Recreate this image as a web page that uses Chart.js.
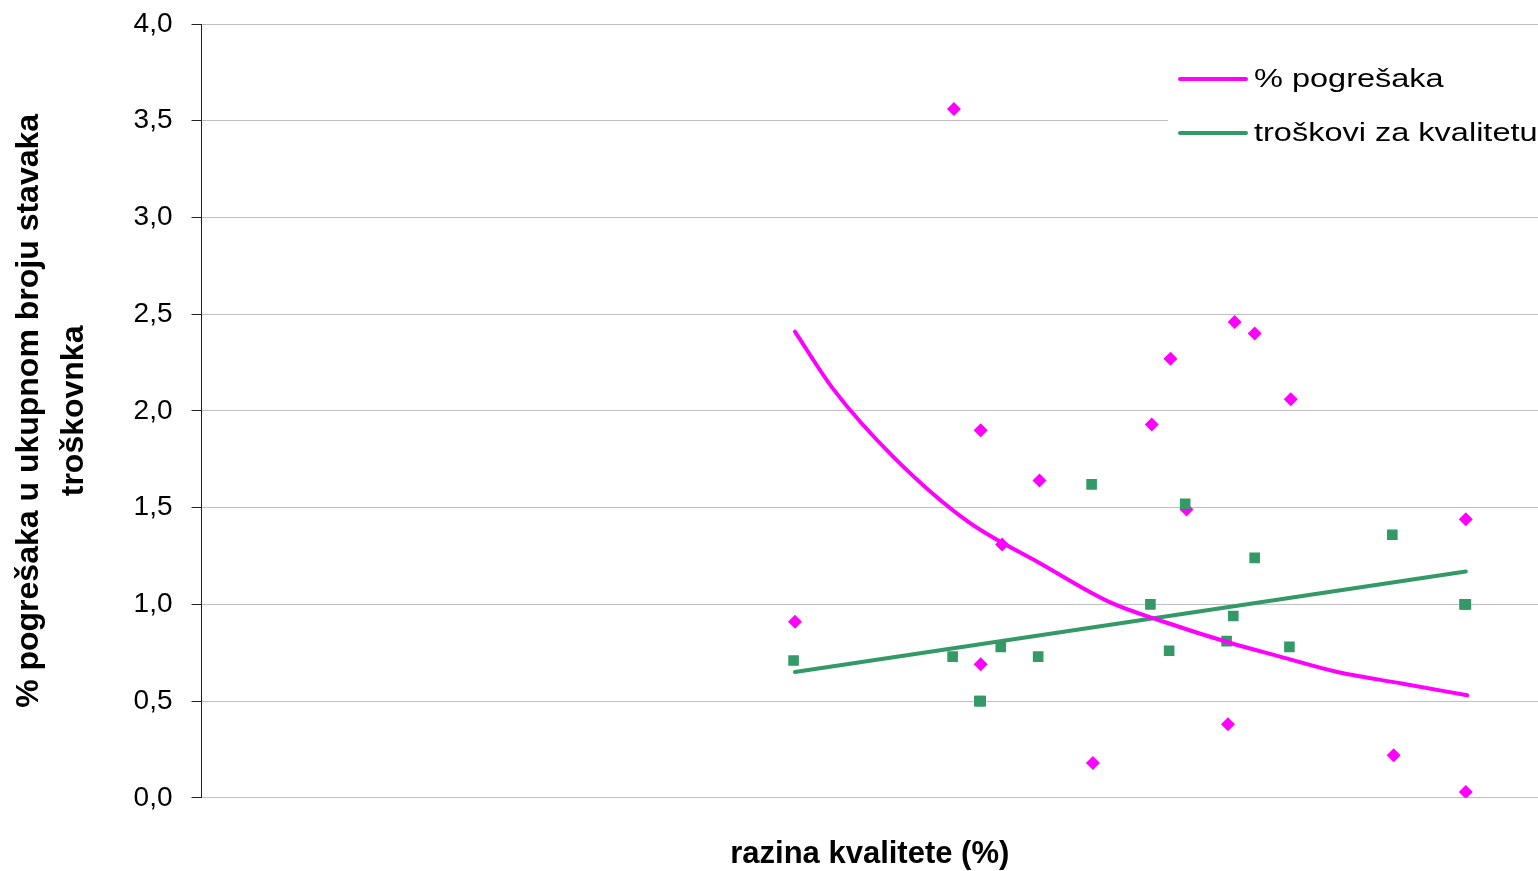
<!DOCTYPE html>
<html>
<head>
<meta charset="utf-8">
<title>Pogreške i troškovi za kvalitetu</title>
<script src="https://cdn.jsdelivr.net/npm/chart.js@4.4.1/dist/chart.umd.min.js"></script>
<style>
  html, body { margin: 0; padding: 0; background: #fff; }
  #wrap { width: 1538px; height: 871px; }
</style>
</head>
<body>
<div id="wrap"><canvas id="kvalitetaChart" width="1538" height="871"></canvas></div>
<script>
// stavke troškovnika: razina kvalitete (%) i % pogrešaka
const pogreskeX = [44.4, 56.3, 58.3, 58.3, 59.9, 62.7, 66.7, 71.1, 72.5, 73.7, 76.8, 77.3, 78.8, 81.5, 89.2, 94.6, 94.6];
const pogreskeY = [0.91, 3.56, 1.90, 0.69, 1.31, 1.64, 0.18, 1.93, 2.27, 1.49, 0.38, 2.46, 2.40, 2.06, 0.22, 1.44, 0.03];

// iste stavke: troškovi za kvalitetu
const troskoviX = [44.3, 56.2, 58.2, 58.3, 59.8, 62.6, 66.6, 71.0, 72.4, 73.6, 76.7, 77.2, 78.8, 81.4, 89.1, 94.5, 94.6];
const troskoviY = [0.71, 0.73, 0.50, 0.50, 0.78, 0.73, 1.62, 1.00, 0.76, 1.52, 0.81, 0.94, 1.24, 0.78, 1.36, 1.00, 1.00];

// trend linije (potencijalna za pogreške, linearna za troškove)
const trendPogreskeX = [44.4, 47.3, 51.8, 57.3, 62.8, 68.0, 72.0, 77.0, 80.7, 85.0, 89.9, 94.7];
const trendPogreskeY = [2.41, 2.11, 1.76, 1.43, 1.21, 1.01, 0.91, 0.80, 0.73, 0.65, 0.59, 0.53];
const trendTroskoviX = [44.4, 94.6];
const trendTroskoviY = [0.65, 1.17];

const yOznake = ['0,0', '0,5', '1,0', '1,5', '2,0', '2,5', '3,0', '3,5', '4,0'];

const MAGENTA = '#ff00ff';
const ZELENA = '#339966';
const FONT = '"Liberation Sans", Arial, sans-serif';

function toPoints(xs, ys) {
    return xs.map((x, i) => ({ x: x, y: ys[i] }));
}

// legenda gore desno, na bijeloj podlozi preko mreže
const legendaPlugin = {
    id: 'legenda',
    afterDraw(chart) {
        const ctx = chart.ctx;
        const a = chart.chartArea;
        const stavke = chart.data.datasets.filter(d => d.uLegendi);
        ctx.save();
        ctx.fillStyle = '#fff';
        ctx.fillRect(a.right - 370, a.top + 22, 370, 140);
        stavke.forEach((d, i) => {
            const y = a.top + 55 + i * 54;
            ctx.strokeStyle = d.borderColor;
            ctx.lineWidth = 4;
            ctx.lineCap = 'round';
            ctx.beginPath();
            ctx.moveTo(a.right - 358, y);
            ctx.lineTo(a.right - 292, y);
            ctx.stroke();
            ctx.save();
            ctx.translate(a.right - 284, y);
            ctx.scale(1.3, 1);
            ctx.fillStyle = '#000';
            ctx.font = '25px ' + FONT;
            ctx.textBaseline = 'middle';
            ctx.fillText(d.label, 0, 1);
            ctx.restore();
        });
        ctx.restore();
    }
};

const ctx = document.getElementById('kvalitetaChart').getContext('2d');
const kvalitetaChart = new Chart(ctx, {
    type: 'scatter',
    data: {
        datasets: [
            {
                label: '% pogrešaka',
                uLegendi: true,
                data: toPoints(trendPogreskeX, trendPogreskeY),
                showLine: true,
                cubicInterpolationMode: 'monotone',
                borderColor: MAGENTA,
                borderWidth: 4,
                borderCapStyle: 'round',
                pointRadius: 0,
                order: 0
            },
            {
                label: 'troškovi za kvalitetu',
                uLegendi: true,
                data: toPoints(trendTroskoviX, trendTroskoviY),
                showLine: true,
                borderColor: ZELENA,
                borderWidth: 4,
                borderCapStyle: 'round',
                pointRadius: 0,
                order: 1
            },
            {
                label: 'troškovi',
                data: toPoints(troskoviX, troskoviY),
                pointStyle: 'rect',
                pointRadius: 7.5,
                backgroundColor: ZELENA,
                borderColor: ZELENA,
                borderWidth: 0,
                order: 2
            },
            {
                label: 'pogreške',
                data: toPoints(pogreskeX, pogreskeY),
                pointStyle: 'rectRot',
                pointRadius: 7,
                backgroundColor: MAGENTA,
                borderColor: MAGENTA,
                borderWidth: 0,
                order: 3
            }
        ]
    },
    options: {
        responsive: false,
        animation: false,
        events: [],
        layout: { autoPadding: false, padding: { top: 24, right: 0, left: 7, bottom: -2 } },
        plugins: {
            legend: { display: false },
            tooltip: { enabled: false }
        },
        scales: {
            x: {
                type: 'linear',
                min: 0,
                max: 100,
                ticks: { display: false },
                grid: { display: false, drawTicks: false },
                border: { display: false },
                title: {
                    display: true,
                    text: 'razina kvalitete (%)',
                    color: '#000',
                    font: { family: FONT, size: 31, weight: 'bold' },
                    padding: { top: 38, bottom: 0 }
                }
            },
            y: {
                min: 0,
                max: 4,
                // gornja oznaka smije prijeći rub područja grafa
                afterFit: (scale) => { scale.paddingTop = 0; },
                ticks: {
                    stepSize: 0.5,
                    color: '#000',
                    font: { family: FONT, size: 28 },
                    padding: 19,
                    callback: (v, i) => yOznake[i]
                },
                grid: { color: '#c0c0c0', tickColor: '#222', tickLength: 10 },
                border: { color: '#222', width: 1 },
                title: {
                    display: true,
                    text: ['% pogrešaka u ukupnom broju stavaka', 'troškovnka'],
                    color: '#000',
                    font: { family: FONT, size: 32, weight: 'bold', lineHeight: 1.4 },
                    padding: { top: 0, bottom: 18 }
                }
            }
        }
    },
    plugins: [legendaPlugin]
});
</script>
</body>
</html>
